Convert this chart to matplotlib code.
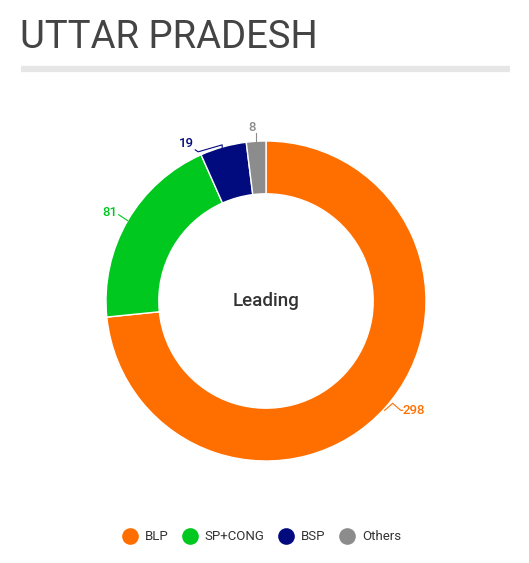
import numpy as np
import matplotlib.pyplot as plt
from matplotlib.lines import Line2D

plt.rcParams["font.family"] = ["Roboto", "DejaVu Sans"]

# Data
parties = ["BLP", "SP+CONG", "BSP", "Others"]
seats = [298, 81, 19, 8]
colors = ["#ff6f00", "#00c81e", "#020b7e", "#8c8c8c"]

W, H = 529, 563
fig = plt.figure(figsize=(W / 100, H / 100), dpi=100)
ax = fig.add_axes([0, 0, 1, 1])
ax.set_xlim(0, W)
ax.set_ylim(0, H)
ax.set_aspect("equal")
ax.axis("off")

# title and underline
ax.text(20, H - 37, "UTTAR PRADESH", fontsize=27.5, color="#444444",
        va="center", ha="left")
ax.plot([21, 510], [H - 69, H - 69], color="#e6e6e6", lw=4.5,
        solid_capstyle="butt")

cx, cy, R = 266, H - 301, 160
wedges, _ = ax.pie(seats, colors=colors, startangle=90, counterclock=False,
                   center=(cx, cy), radius=R,
                   wedgeprops=dict(width=R * 0.33, edgecolor="white", lw=1))
ax.set_xlim(0, W)
ax.set_ylim(0, H)

ax.text(cx, cy, "Leading", fontsize=13.5, fontweight="medium", color="#333333",
        ha="center", va="center")

# data labels with connectors
lbl = dict(fontsize=9.5, fontweight="medium", va="center")
for w, val, col in zip(wedges, seats, colors):
    mid = np.deg2rad((w.theta1 + w.theta2) / 2)
    ex, ey = cx + R * np.cos(mid), cy + R * np.sin(mid)
    if val == 298:
        xs = [ex, ex + 8, ex + 16, ex + 18]
        ys = [ey - 2, ey + 5, ey - 2, ey - 2]
        ax.plot(xs, ys, color=col, lw=0.8)
        ax.text(ex + 18, ey - 2, str(val), color=col, ha="left", **lbl)
    elif val == 81:
        ax.plot([ex, ex - 9], [ey, ey + 6], color=col, lw=0.8)
        ax.text(ex - 10, ey + 8, str(val), color=col, ha="right", **lbl)
    elif val == 19:
        xs = [ex - 1, ex - 1, ex - 25, ex - 28]
        ys = [ey - 4, ey + 2, ey - 5, ey - 3]
        ax.plot(xs, ys, color=col, lw=0.8)
        ax.text(ex - 29, ey + 3, str(val), color=col, ha="right", **lbl)
    else:
        ax.plot([ex, ex], [ey, ey + 8], color=col, lw=0.8)
        ax.text(ex - 4, ey + 14, str(val), color=col, ha="center", **lbl)

handles = [Line2D([], [], marker="o", ls="", ms=12, color=c, markeredgewidth=0)
           for c in colors]
ax.legend(handles, parties, loc="center", bbox_to_anchor=(261 / W, 1 - 537 / H),
          bbox_transform=fig.transFigure, ncol=4, frameon=False,
          fontsize=9.5, labelcolor="#333333", handletextpad=0.5,
          columnspacing=0.95, handlelength=1.3)

fig.savefig("out.png", dpi=100, facecolor="white")
